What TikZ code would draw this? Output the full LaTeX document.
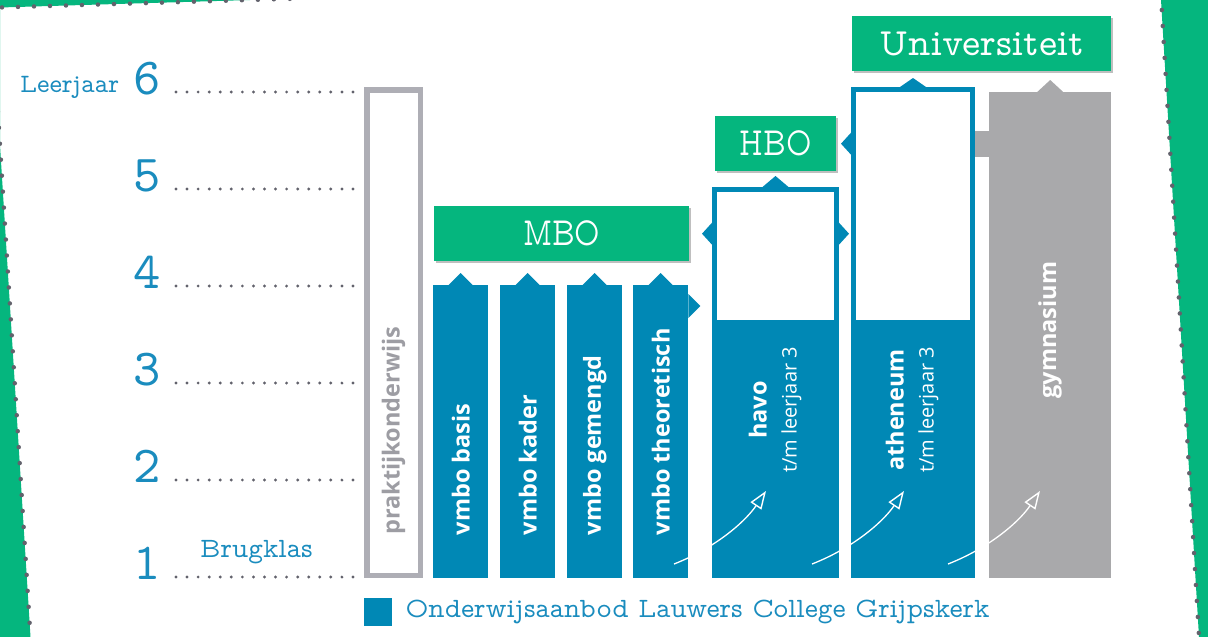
\documentclass[tikz,border=0pt]{standalone}
\usepackage{fontspec}
\newfontfamily\handfont{lmmonoprop10-regular.otf}
\newfontfamily\handcond[FakeStretch=0.78]{lmmonoprop10-regular.otf}
\newfontfamily\barfont{Open Sans}
\usetikzlibrary{arrows.meta,shadows}
\definecolor{vblue}{RGB}{0,136,181}
\definecolor{lgreen}{RGB}{5,182,126}
\definecolor{ggray}{RGB}{169,169,171}
\definecolor{pgray}{RGB}{174,174,181}
\definecolor{dotgray}{RGB}{98,98,108}
\definecolor{tblue}{RGB}{26,140,190}
\tikzset{
  vbar/.style={fill=vblue,minimum width=55pt,minimum height=293pt,anchor=north west,inner sep=0pt},
  obar/.style={draw=vblue,line width=5pt,fill=white,anchor=north west,inner sep=0pt},
  lowfill/.style={fill=vblue,minimum height=258pt,anchor=south,inner sep=0pt},
  gbox/.style={fill=lgreen,text=white,font=\handcond\fontsize{40}{40}\selectfont,minimum height=55pt,
    anchor=north west,inner sep=0pt,drop shadow={shadow xshift=2pt,shadow yshift=-2pt,opacity=0.25,fill=black}},
  barlabel/.style={rotate=90,anchor=west,text=white,font=\barfont\bfseries\fontsize{23.5}{24}\selectfont,inner sep=0pt},
  twolabel/.style={rotate=90,align=center,text=white,font=\barfont\fontsize{23.5}{30}\selectfont,inner sep=0pt},
  lvl/.style={text=tblue,font=\handfont\fontsize{52}{52}\selectfont,anchor=base east,inner sep=0pt},
  hand/.style={text=tblue,font=\handfont\fontsize{28}{28}\selectfont,inner sep=0pt},
  guide/.style={dotgray,line width=3.2pt,line cap=round,dash pattern=on 0pt off 11.06pt},
  borderdots/.style={dotgray,line width=4.5pt,line cap=round,dash pattern=on 0pt off 16pt},
  climb/.style={white,line width=1.3pt,-{Triangle[open,length=18pt,width=13pt,line width=1.4pt]}}
}
\begin{document}
\begin{tikzpicture}[x=1pt,y=-1pt]
\useasboundingbox (0,0) rectangle (1208,637);
\clip (0,0) rectangle (1208,637);

\fill[lgreen] (0,0) -- (0,7.5) -- (250,0) -- cycle;
\fill[lgreen] (0,0) -- (-9,0) -- (30.5,637) -- (0,637) -- cycle;
\fill[lgreen] (1161,0) -- (1208,0) -- (1208,637) -- (1199,637) -- cycle;
\draw[borderdots] (2,7.4) -- (300,-1.5);
\draw[borderdots] (-9,0) -- (30.5,637);
\draw[borderdots] (1161.8,10) -- (1199,637);

\node[hand,font=\handfont\fontsize{26.5}{26.5}\selectfont,anchor=base west] (leerjaar) at (20,92) {Leerjaar};
\node[hand,anchor=base west] (brugklas) at (200,557) {Brugklas};
\node[lvl] (l6) at (161,94) {6};
\node[lvl] (l5) at (161,191) {5};
\node[lvl] (l4) at (161,288) {4};
\node[lvl] (l3) at (161,385) {3};
\node[lvl] (l2) at (161,482) {2};
\node[lvl] (l1) at (161,579) {1};
\draw[guide] (176,92) -- (353.2,92);
\draw[guide] (176,189) -- (353.2,189);
\draw[guide] (176,286) -- (353.2,286);
\draw[guide] (176,383) -- (353.2,383);
\draw[guide] (176,480) -- (353.2,480);
\draw[guide] (176,577) -- (353.2,577);

\node[draw=pgray,line width=5.5pt,anchor=north west,inner sep=0pt,minimum width=53.5pt,minimum height=485.5pt] (prakt) at (364,87) {};
\node[barlabel,text=pgray!90!black] (tprakt) at ([yshift=43pt]prakt.south) {praktijkonderwijs};

\node[vbar] (basis) at (433,285) {};
\node[vbar] (kader) at (500,285) {};
\node[vbar] (gemengd) at (567,285) {};
\node[vbar] (theor) at (633,285) {};
\node[barlabel] (tbasis) at ([yshift=43pt]basis.south) {vmbo basis};
\node[barlabel] (tkader) at ([yshift=43pt]kader.south) {vmbo kader};
\node[barlabel] (tgemengd) at ([yshift=43pt]gemengd.south) {vmbo gemengd};
\node[barlabel] (ttheor) at ([yshift=43pt]theor.south) {vmbo theoretisch};

\node[obar,minimum width=122pt,minimum height=386pt] (havo) at (712,187) {};
\node[lowfill,minimum width=127pt] (havolow) at (havo.south) {};
\node[obar,minimum width=119pt,minimum height=486pt] (athen) at (851,87) {};
\node[lowfill,minimum width=124pt] (athenlow) at (athen.south) {};
\node[fill=ggray,anchor=north west,inner sep=0pt,minimum width=122pt,minimum height=486pt] (gymn) at (989,92) {};
\fill[ggray] (athen.east |- 0,131) rectangle (gymn.west |- 0,157);

\node[twolabel] (thavo) at (775,410) {{\bfseries havo}\\{\fontsize{20}{20}\selectfont t/m leerjaar 3}};
\node[twolabel] (tathen) at (912,410) {{\bfseries atheneum}\\{\fontsize{20}{20}\selectfont t/m leerjaar 3}};
\node[barlabel,anchor=center] (tgymn) at (1050,330) {gymnasium};

\node[gbox,minimum width=255pt] (mbo) at (434,206) {MBO};
\node[gbox,minimum width=121pt] (hbo) at (715,116) {HBO};
\node[gbox,font=\handfont\fontsize{38.5}{38.5}\selectfont,minimum width=259pt] (uni) at (852,16) {Universiteit};

\fill[vblue] ([xshift=-12pt]basis.north) -- ([yshift=12pt]basis.north) -- ([xshift=12pt]basis.north) -- cycle;
\fill[vblue] ([xshift=-12pt]kader.north) -- ([yshift=12pt]kader.north) -- ([xshift=12pt]kader.north) -- cycle;
\fill[vblue] ([xshift=-12pt]gemengd.north) -- ([yshift=12pt]gemengd.north) -- ([xshift=12pt]gemengd.north) -- cycle;
\fill[vblue] ([xshift=-12pt]theor.north) -- ([yshift=12pt]theor.north) -- ([xshift=12pt]theor.north) -- cycle;
\fill[vblue] ([yshift=-9pt]theor.north east) -- ([xshift=12pt,yshift=-21pt]theor.north east) -- ([yshift=-33pt]theor.north east) -- cycle;
\coordinate (hl) at (havo.west |- mbo.east);
\coordinate (hr) at (havo.east |- mbo.east);
\coordinate (al) at (athen.west |- hbo.east);
\fill[vblue] ([yshift=11pt]hl) -- ([xshift=-10pt]hl) -- ([yshift=-11pt]hl) -- cycle;
\fill[vblue] ([yshift=11pt]hr) -- ([xshift=10pt]hr) -- ([yshift=-11pt]hr) -- cycle;
\fill[vblue] ([yshift=11pt]al) -- ([xshift=-10pt]al) -- ([yshift=-11pt]al) -- cycle;
\fill[vblue] ([xshift=-13pt]havo.north) -- ([yshift=11pt]havo.north) -- ([xshift=13pt]havo.north) -- cycle;
\fill[vblue] ([xshift=-13pt]athen.north) -- ([yshift=9pt]athen.north) -- ([xshift=13pt]athen.north) -- cycle;
\fill[ggray] ([xshift=-13pt]gymn.north) -- ([yshift=12pt]gymn.north) -- ([xshift=13pt]gymn.north) -- cycle;

\coordinate (h0) at (674,564);
\coordinate (h1) at (766,491);
\coordinate (a0) at (812,564);
\coordinate (a1) at (904,491);
\coordinate (g0) at (948,564);
\coordinate (g1) at (1040,491);
\draw[climb] (h0) .. controls (715,548) and (745,522) .. (h1);
\draw[climb] (a0) .. controls (853,548) and (883,522) .. (a1);
\draw[climb] (g0) .. controls (989,548) and (1019,522) .. (g1);

\node[fill=vblue,anchor=north west,inner sep=0pt,minimum size=28pt] (key) at (364,598) {};
\node[hand,anchor=west] (keytext) at ([xshift=13pt]key.east) {Onderwijsaanbod Lauwers College Grijpskerk};
\end{tikzpicture}
\end{document}
